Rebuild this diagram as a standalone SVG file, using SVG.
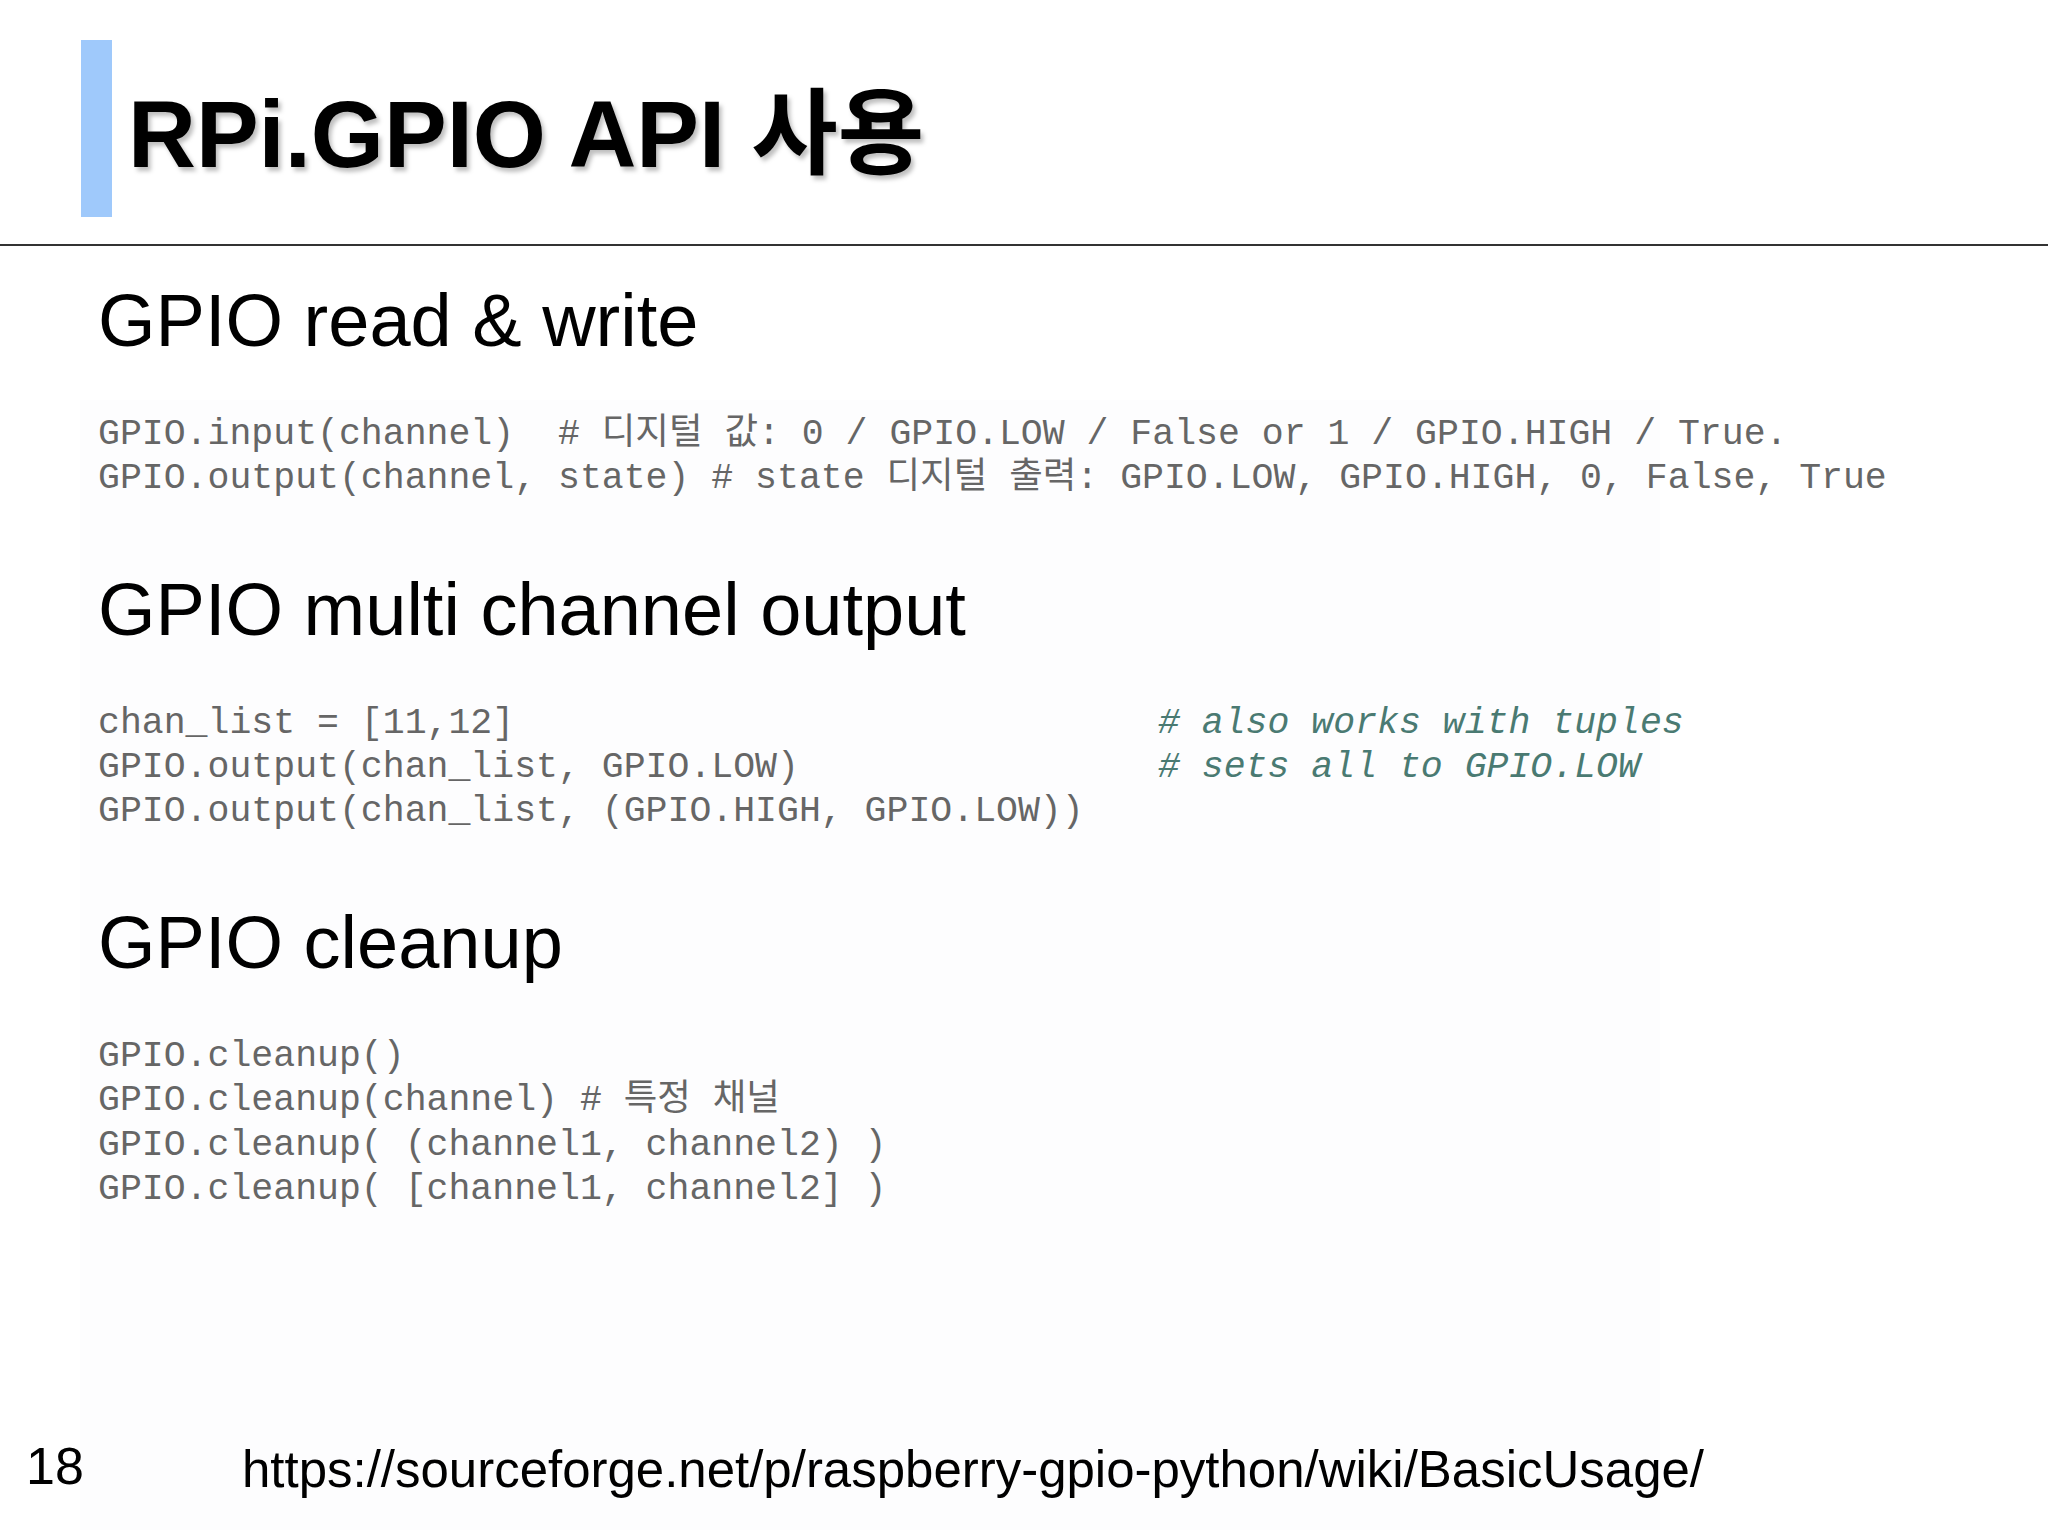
<svg xmlns="http://www.w3.org/2000/svg" width="2048" height="1536" viewBox="0 0 2048 1536">
<defs>
<filter id="sh" x="-5%" y="-5%" width="110%" height="120%"><feDropShadow dx="3" dy="4" stdDeviation="2" flood-color="#000" flood-opacity="0.25"/></filter>
</defs>
<style>
text{white-space:pre}
.h{font-family:"Liberation Sans","Noto Sans CJK KR",sans-serif;fill:#000}
.c{font-family:"Liberation Mono","Noto Sans CJK KR",monospace;font-size:36.5px;fill:#666}
.cm{font-family:"Liberation Mono",monospace;font-size:36.5px;fill:#4a7a72;font-style:italic}
</style>
<rect width="2048" height="1536" fill="#fff"/>
<rect x="80" y="400" width="1580" height="1130" fill="#fdfdfe"/>
<g id="title">
<rect x="81" y="40" width="31" height="177" fill="#9fc9fb"/>
<text class="h" x="128" y="167" font-size="94" font-weight="bold" filter="url(#sh)">RPi.GPIO API 사용</text>
<line x1="0" y1="245" x2="2048" y2="245" stroke="#333" stroke-width="2"/>
</g>
<g id="s1">
<text class="h" x="98" y="346" font-size="74">GPIO read &amp; write</text>
<text class="c" x="98" y="444" xml:space="preserve">GPIO.input(channel)  # 디지털 값: 0 / GPIO.LOW / False or 1 / GPIO.HIGH / True.</text>
<text class="c" x="98" y="488" xml:space="preserve">GPIO.output(channel, state) # state 디지털 출력: GPIO.LOW, GPIO.HIGH, 0, False, True</text>
</g>
<g id="s2">
<text class="h" x="98" y="635" font-size="74">GPIO multi channel output</text>
<text class="c" x="98" y="733" xml:space="preserve">chan_list = [11,12]</text>
<text class="cm" x="1158" y="733" xml:space="preserve"># also works with tuples</text>
<text class="c" x="98" y="777" xml:space="preserve">GPIO.output(chan_list, GPIO.LOW)</text>
<text class="cm" x="1158" y="777" xml:space="preserve"># sets all to GPIO.LOW</text>
<text class="c" x="98" y="821" xml:space="preserve">GPIO.output(chan_list, (GPIO.HIGH, GPIO.LOW))</text>
</g>
<g id="s3">
<text class="h" x="98" y="968" font-size="74">GPIO cleanup</text>
<text class="c" x="98" y="1066" xml:space="preserve">GPIO.cleanup()</text>
<text class="c" x="98" y="1110" xml:space="preserve">GPIO.cleanup(channel) # 특정 채널</text>
<text class="c" x="98" y="1155" xml:space="preserve">GPIO.cleanup( (channel1, channel2) )</text>
<text class="c" x="98" y="1199" xml:space="preserve">GPIO.cleanup( [channel1, channel2] )</text>
</g>
<g id="footer">
<text class="h" x="26" y="1484" font-size="52">18</text>
<text class="h" x="242" y="1487" font-size="52" textLength="1462" lengthAdjust="spacingAndGlyphs">https://sourceforge.net/p/raspberry-gpio-python/wiki/BasicUsage/</text>
</g>
</svg>
